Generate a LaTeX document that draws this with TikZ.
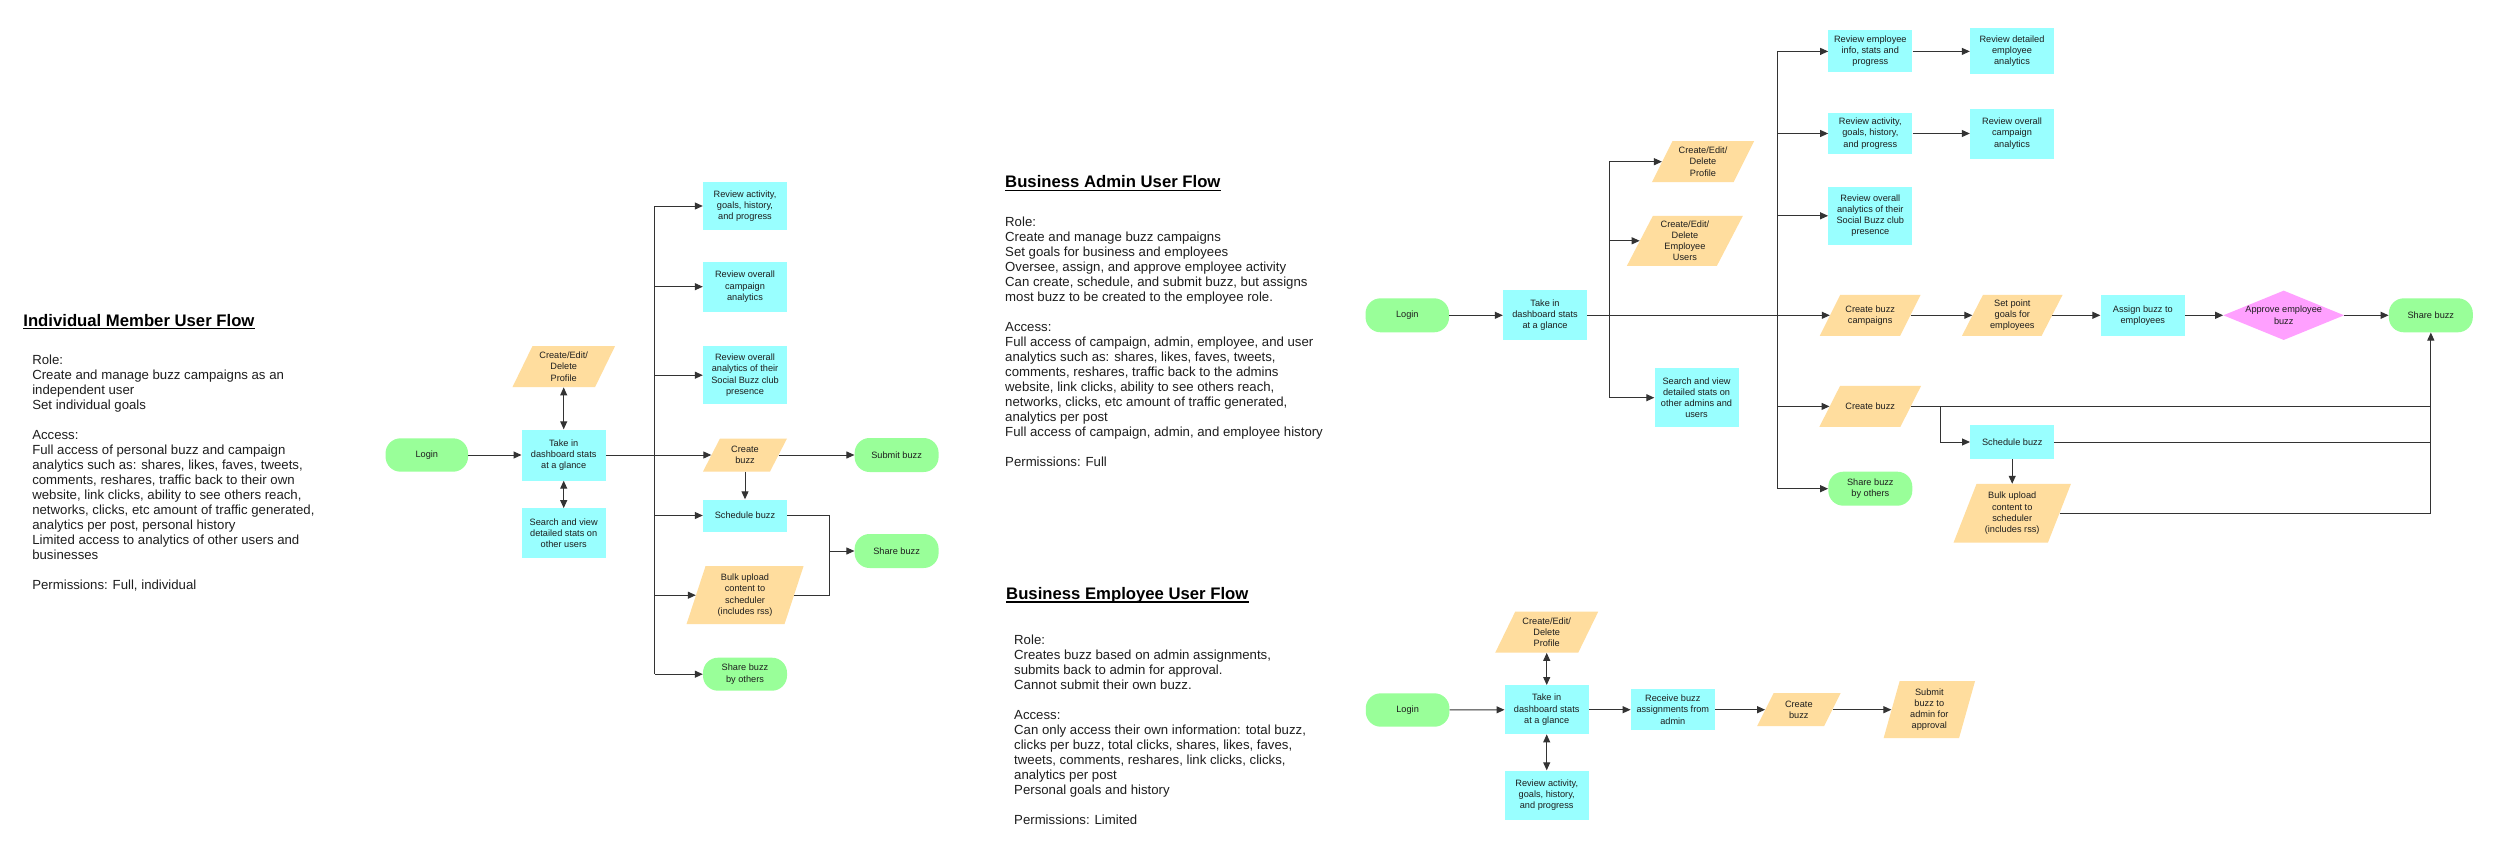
\documentclass[tikz,border=0pt]{standalone}
\usepackage{fontspec}
\setmainfont{Liberation Sans}
\usetikzlibrary{arrows.meta}
\definecolor{cy}{HTML}{99FFFF}
\definecolor{og}{HTML}{FFDD9E}
\definecolor{gr}{HTML}{99FF99}
\definecolor{pk}{HTML}{FFA0FF}
\definecolor{ln}{HTML}{333333}
\definecolor{txt}{HTML}{1E1E1E}
\newcommand\nodefnt{\fontsize{9.2}{11.2}\selectfont}
\newcommand\bodyfnt{\fontsize{13.2}{15}\selectfont}
\newcommand\titlefnt{\fontsize{16.7}{20}\selectfont\bfseries}
% name, cx, cy, mid width, height, slant, text
\newcommand\para[7]{%
  \fill[og] ({#2-#4/2-#6/2},{#3+#5/2}) -- ({#2+#4/2-#6/2},{#3+#5/2}) --
            ({#2+#4/2+#6/2},{#3-#5/2}) -- ({#2-#4/2+#6/2},{#3-#5/2}) -- cycle;
  \node[nbase, minimum width=#4pt, minimum height=#5pt] (#1) at (#2,#3) {#7};}
\tikzset{
  nbase/.style={inner sep=0pt, align=center, font=\nodefnt, text=txt},
  box/.style={nbase, fill=cy, minimum width=84pt, minimum height=#1},
  term/.style={nbase, fill=gr, rounded corners=15pt, minimum width=84pt, minimum height=#1},
  conn/.style={draw=ln, line width=1pt},
  arr/.style={conn, -{Triangle[length=8pt,width=7pt]}},
  dbl/.style={conn, {Triangle[length=8pt,width=7pt]}-{Triangle[length=8pt,width=7pt]}},
  ttl/.style={anchor=base west, inner sep=0pt, font=\titlefnt, text=black},
  body/.style={anchor=base west, inner sep=0pt, text=txt},
  uline/.style={draw=black, line width=1.3pt},
}
\begin{document}
\begin{tikzpicture}[x=1pt,y=-1pt]
\useasboundingbox (0,0) rectangle (2500,859);
\fill[white] (0,0) rectangle (2500,859);

% ---------------- Text blocks ----------------
\node[ttl] (iTitle) at (23.2,326) {Individual Member User Flow};
\draw[uline] ([yshift=-2.8pt]iTitle.base west) -- ([yshift=-2.8pt]iTitle.base east);
\node[body] (iBody) at (32.1,364) {\bodyfnt\begin{tabular}[t]{@{}l@{}}Role:\\Create and manage buzz campaigns as an\\independent user\\Set individual goals\\ \\Access:\\Full access of personal buzz and campaign\\analytics such as: shares, likes, faves, tweets,\\comments, reshares, traffic back to their own\\website, link clicks, ability to see others reach,\\networks, clicks, etc amount of traffic generated,\\analytics per post, personal history\\Limited access to analytics of other users and\\businesses\\ \\Permissions: Full, individual\end{tabular}};

\node[ttl] (aTitle) at (1005,187.7) {Business Admin User Flow};
\draw[uline] ([yshift=-2.8pt]aTitle.base west) -- ([yshift=-2.8pt]aTitle.base east);
\node[body] (aBody) at (1005,226) {\bodyfnt\begin{tabular}[t]{@{}l@{}}Role:\\Create and manage buzz campaigns\\Set goals for business and employees\\Oversee, assign, and approve employee activity\\Can create, schedule, and submit buzz, but assigns\\most buzz to be created to the employee role.\\ \\Access:\\Full access of campaign, admin, employee, and user\\analytics such as: shares, likes, faves, tweets,\\comments, reshares, traffic back to the admins\\website, link clicks, ability to see others reach,\\networks, clicks, etc amount of traffic generated,\\analytics per post\\Full access of campaign, admin, and employee history\\ \\Permissions: Full\end{tabular}};

\node[ttl] (eTitle) at (1006,599.3) {Business Employee User Flow};
\draw[uline] ([yshift=-2.8pt]eTitle.base west) -- ([yshift=-2.8pt]eTitle.base east);
\node[body] (eBody) at (1014,644) {\bodyfnt\begin{tabular}[t]{@{}l@{}}Role:\\Creates buzz based on admin assignments,\\submits back to admin for approval.\\Cannot submit their own buzz.\\ \\Access:\\Can only access their own information: total buzz,\\clicks per buzz, total clicks, shares, likes, faves,\\tweets, comments, reshares, link clicks, clicks,\\analytics per post\\Personal goals and history\\ \\Permissions: Limited\end{tabular}};

% ---------------- Individual flow ----------------
\node[term=33.4pt, minimum width=82.5pt] (iLogin) at (426.8,455) {Login};
\node[box=51pt] (iTake) at (563.7,455) {Take in\\dashboard stats\\at a glance};
\para{iProf}{563.7}{366.7}{82.6}{41}{20}{Create/Edit/\\Delete\\Profile}
\node[box=50pt] (iSearch) at (563.7,533.3) {Search and view\\detailed stats on\\other users};
\node[box=48pt] (iRA) at (745,206) {Review activity,\\goals, history,\\and progress};
\node[box=50pt] (iRC) at (745,286.7) {Review overall\\campaign\\analytics};
\node[box=58pt] (iRS) at (745,375.2) {Review overall\\analytics of their\\Social Buzz club\\presence};
\para{iCreate}{745}{455}{67}{33}{17}{Create\\buzz}
\node[box=32pt] (iSched) at (745,515.5) {Schedule buzz};
\para{iBulk}{745}{595.2}{98}{58}{19}{Bulk upload\\content to\\scheduler\\(includes rss)}
\node[term=33pt] (iShareO) at (745,674.2) {Share buzz\\by others};
\node[term=34pt] (iSubmit) at (896.6,455) {Submit buzz};
\node[term=34pt] (iShare) at (896.6,551) {Share buzz};

\coordinate (iTr) at (654.9,0);
\coordinate (iM) at (829.9,551);
\draw[arr] (iLogin) -- (iTake);
\draw[dbl] (iProf) -- (iTake);
\draw[dbl] (iTake) -- (iSearch);
\draw[arr] (iTake) -- (iCreate);
\draw[conn] (iTr |- iRA) -- (iTr |- iShareO);
\foreach \nm in {iRA,iRC,iRS,iSched,iBulk,iShareO} \draw[arr] (iTr |- \nm) -- (\nm);
\draw[arr] (iCreate) -- (iSubmit);
\draw[arr] (iCreate) -- (iSched);
\draw[conn] (iSched) -| (iM);
\draw[conn] (iBulk) -| (iM);
\draw[arr] (iM) -- (iShare);

% ---------------- Admin flow ----------------
\node[term=34pt, minimum width=83.5pt] (aLogin) at (1407.3,315.3) {Login};
\node[box=50pt] (aTake) at (1545,315.3) {Take in\\dashboard stats\\at a glance};
\para{aProf}{1703}{161.7}{81.7}{41}{20.5}{Create/Edit/\\Delete\\Profile}
\para{aEmp}{1684.9}{240.8}{90}{50}{26}{Create/Edit/\\Delete\\Employee\\Users}
\node[box=59pt] (aSearch) at (1696.5,397.7) {Search and view\\detailed stats on\\other admins and\\users};
\node[box=42pt] (aRE) at (1870.3,51.4) {Review employee\\info, stats and\\progress};
\node[box=46pt] (aRD) at (2012,51.4) {Review detailed\\employee\\analytics};
\node[box=41pt] (aRA) at (1870.3,133.5) {Review activity,\\goals, history,\\and progress};
\node[box=50pt] (aRC) at (2012,133.5) {Review overall\\campaign\\analytics};
\node[box=58pt] (aRS) at (1870.3,215.8) {Review overall\\analytics of their\\Social Buzz club\\presence};
\para{aCBC}{1870.2}{315.3}{80.4}{41}{20.5}{Create buzz\\campaigns}
\para{aSPG}{2012.3}{315.3}{79.6}{41}{21}{Set point\\goals for\\employees}
\node[box=41pt, minimum width=84.5pt] (aAssign) at (2142.8,315.3) {Assign buzz to\\employees};
\fill[pk] (2223.35,315.3) -- (2283.7,290.65) -- (2344.05,315.3) -- (2283.7,339.95) -- cycle;
\node[nbase, minimum width=120.7pt, minimum height=49.3pt] (aApprove) at (2283.7,315.3) {Approve employee\\buzz};
\node[term=34pt] (aShare) at (2430.8,315.3) {Share buzz};
\para{aCB}{1870.2}{406.4}{81}{41}{20.7}{Create buzz}
\node[box=34pt] (aSched) at (2012.2,442) {Schedule buzz};
\para{aBulk}{2012.2}{513.3}{94.4}{58.7}{23}{Bulk upload\\content to\\scheduler\\(includes rss)}
\node[term=34pt] (aShareO) at (1870.3,488.7) {Share buzz\\by others};

\coordinate (aT1) at (1609.4,0);
\coordinate (aT2) at (1777.5,0);
\coordinate (aBr) at (1940.7,406.4);
\draw[arr] (aLogin) -- (aTake);
\draw[arr] (aTake) -- (aCBC);
\draw[conn] (aT1 |- aProf) -- (aT1 |- aSearch);
\foreach \nm in {aProf,aEmp,aSearch} \draw[arr] (aT1 |- \nm) -- (\nm);
\draw[conn] (aT2 |- aRE) -- (aT2 |- aShareO);
\foreach \nm in {aRE,aRA,aRS,aCB,aShareO} \draw[arr] (aT2 |- \nm) -- (\nm);
\draw[arr] (aRE) -- (aRD);
\draw[arr] (aRA) -- (aRC);
\draw[arr] (aCBC) -- (aSPG);
\draw[arr] (aSPG) -- (aAssign);
\draw[arr] (aAssign) -- (aApprove);
\draw[arr] (aApprove) -- (aShare);
\draw[conn] (aCB) -- (aCB -| aShare);
\draw[conn] (aSched) -- (aSched -| aShare);
\draw[arr] (aBulk) -| (aShare);
\draw[arr] (aBr) |- (aSched);
\draw[arr] (aSched) -- (aBulk);

% ---------------- Employee flow ----------------
\node[term=33.4pt, minimum width=83.7pt] (eLogin) at (1407.6,710) {Login};
\node[box=49pt] (eTake) at (1546.7,709.7) {Take in\\dashboard stats\\at a glance};
\para{eProf}{1546.7}{632.2}{83}{41}{20}{Create/Edit/\\Delete\\Profile}
\node[box=49pt] (eRev) at (1546.7,795) {Review activity,\\goals, history,\\and progress};
\node[box=41pt] (eRecv) at (1672.8,709.7) {Receive buzz\\assignments from\\admin};
\para{eCreate}{1798.8}{709.7}{67}{33}{16.6}{Create\\buzz}
\para{eSubmit}{1929.3}{709.7}{75.4}{57}{16}{Submit\\buzz to\\admin for\\approval}

\draw[arr] (eLogin) -- (eTake);
\draw[dbl] (eProf) -- (eTake);
\draw[dbl] (eTake) -- (eRev);
\draw[arr] (eTake) -- (eRecv);
\draw[arr] (eRecv) -- (eCreate);
\draw[arr] (eCreate) -- (eSubmit);
\end{tikzpicture}
\end{document}
